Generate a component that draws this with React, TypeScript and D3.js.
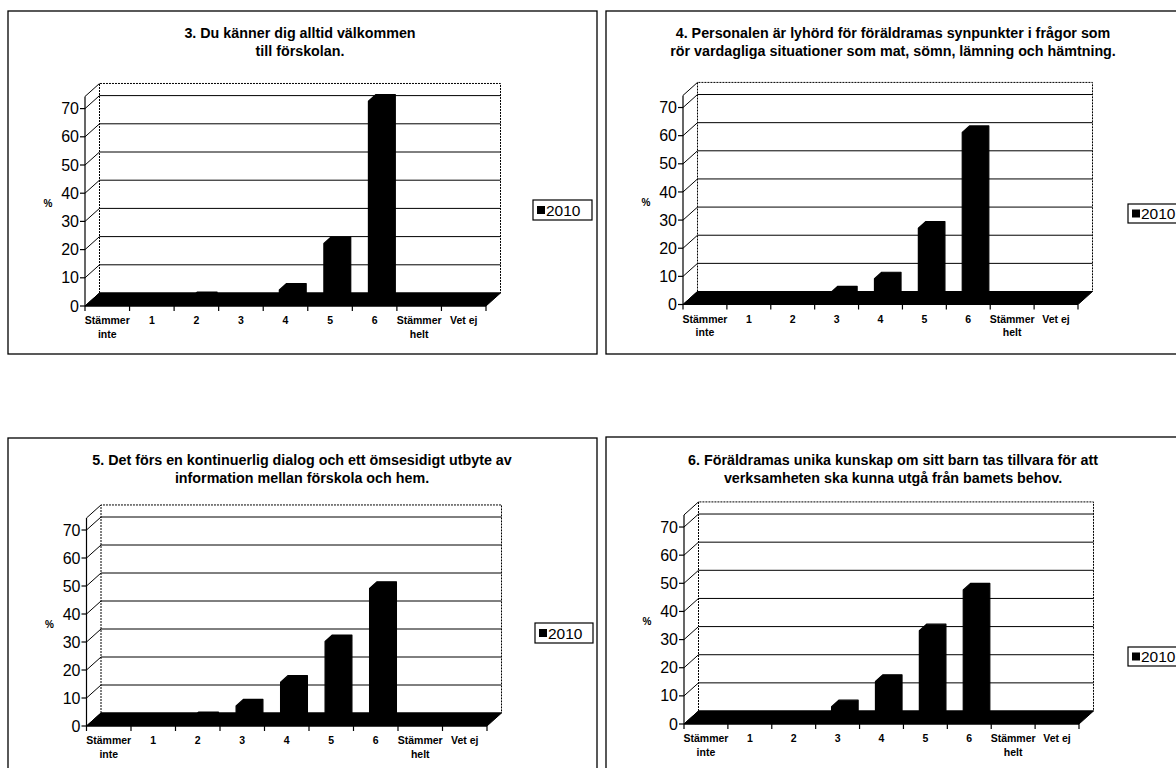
import React from 'react';
import * as d3 from 'd3';

// ---------- data ----------
const categories = ['Stämmer inte', '1', '2', '3', '4', '5', '6', 'Stämmer helt', 'Vet ej'];
const categoryLines: string[][] = [['Stämmer', 'inte'], ['1'], ['2'], ['3'], ['4'], ['5'], ['6'], ['Stämmer', 'helt'], ['Vet ej']];
const yTicks = [0, 10, 20, 30, 40, 50, 60, 70];
const yMax = 74.3;
const seriesName = '2010';
const yAxisTitle = '%';

const q3Values = [0, 0, 1.5, 0, 4.5, 21, 71.5, 0, 0];
const q4Values = [0, 0, 0, 3, 8, 26, 60, 0, 0];
const q5Values = [0, 0, 1.5, 6, 14.5, 29, 48, 0, 0];
const q6Values = [0, 0, 0, 5, 14, 32, 46.5, 0, 0];

const q3Title = ['3. Du känner dig alltid välkommen', 'till förskolan.'];
const q4Title = ['4. Personalen är lyhörd för föräldramas synpunkter i frågor som', 'rör vardagliga situationer som mat, sömn, lämning och hämtning.'];
const q5Title = ['5. Det förs en kontinuerlig dialog och ett ömsesidigt utbyte av', 'information mellan förskola och hem.'];
const q6Title = ['6. Föräldramas unika kunskap om sitt barn tas tillvara för att', 'verksamheten ska kunna utgå från bamets behov.'];

// ---------- layout ----------
type Layout = {
  box: [number, number, number, number];
  fx: number; fy: number; W: number; k: number;
  titleX: number; titleY: [number, number];
  legend: [number, number, number, number];
};

const layouts: Layout[] = [
  { box: [8, 11, 597, 354], fx: 85, fy: 306, W: 401, k: 2.82, titleX: 300, titleY: [37.5, 56], legend: [533, 200, 59, 20] },
  { box: [606, 11, 1190, 354], fx: 683, fy: 304.5, W: 395, k: 2.814, titleX: 893, titleY: [37.5, 56], legend: [1128, 204, 59, 19] },
  { box: [8, 438, 597, 790], fx: 86.5, fy: 726, W: 400.5, k: 2.8, titleX: 302, titleY: [464.5, 483], legend: [535, 623, 58, 20] },
  { box: [606, 437, 1190, 790], fx: 684, fy: 724, W: 395, k: 2.814, titleX: 893, titleY: [464.5, 483], legend: [1128, 647, 59, 19] },
];

const DX = 14.5;
const DY = -13;
const FONT = '"Liberation Sans", Arial, Helvetica, sans-serif';

function Panel({ values, title, L }: { values: number[]; title: string[]; L: Layout }) {
  const { fx, fy, W, k } = L;
  const x = d3.scaleBand<string>().domain(categories).range([fx, fx + W]);
  const y = d3.scaleLinear().domain([0, yMax]).range([fy, fy - yMax * k]);
  const bw = x.bandwidth();
  const p = (px: number, py: number, d: number): [number, number] => [px + d * DX, py + d * DY];
  const pts = (arr: [number, number][]) => arr.map((a) => a.join(',')).join(' ');
  const line = d3.line();

  const top = y(yMax);
  const [bx0, by0, bx1, by1] = L.box;
  const [lx, ly, lw, lh] = L.legend;

  return (
    <g>
      <rect x={bx0} y={by0} width={bx1 - bx0} height={by1 - by0} fill="white" stroke="#000" strokeWidth={1.3} />
      {/* title */}
      {title.map((t, i) => (
        <text key={i} x={L.titleX} y={L.titleY[i]} textAnchor="middle" fontFamily={FONT} fontWeight="bold" fontSize={14.3} fill="#000">
          {t}
        </text>
      ))}
      {/* back wall outline */}
      <path d={line([p(fx, fy, 1), p(fx, top, 1), p(fx + W, top, 1), p(fx + W, fy, 1)]) || ''} fill="none" stroke="#000" strokeWidth={1} strokeDasharray="2,1" />
      {/* side wall top */}
      <path d={line([[fx, top], p(fx, top, 1)]) || ''} fill="none" stroke="#000" strokeWidth={1} />
      {/* gridlines */}
      {yTicks.map((t) => (
        <g key={t}>
          <path d={line([[fx, y(t)], p(fx, y(t), 1)]) || ''} stroke="#000" strokeWidth={1} fill="none" />
          <path d={line([p(fx, y(t), 1), p(fx + W, y(t), 1)]) || ''} stroke="#000" strokeWidth={1} fill="none" />
        </g>
      ))}
      {/* floor */}
      <polygon points={pts([p(fx, fy, 0), p(fx + W, fy, 0), p(fx + W, fy, 1), p(fx, fy, 1)])} fill="#000" stroke="#000" strokeWidth={1} />
      {/* bars */}
      {categories.map((c, i) => {
        const v = values[i];
        if (!v) return null;
        const cx = (x(c) as number) + bw / 2;
        const w = 0.44 * bw;
        const xL = cx - w / 2;
        const xR = cx + w / 2;
        const yB = y(0);
        const yT = y(v);
        const d1 = 0.25;
        const d2 = 0.75;
        return (
          <polygon
            key={c}
            points={pts([p(xL, yB, d1), p(xL, yT, d1), p(xL, yT, d2), p(xR, yT, d2), p(xR, yB, d2), p(xR, yB, d1)])}
            fill="#000"
            stroke="#000"
            strokeWidth={1.2}
            strokeLinejoin="round"
          />
        );
      })}
      {/* y axis */}
      <path d={line([[fx, fy], [fx, top]]) || ''} stroke="#000" strokeWidth={1.2} fill="none" />
      {yTicks.map((t) => (
        <g key={'yt' + t}>
          <path d={line([[fx - 5, y(t)], [fx, y(t)]]) || ''} stroke="#000" strokeWidth={1.2} />
          <text x={fx - 6} y={y(t) + 5.6} textAnchor="end" fontFamily={FONT} fontSize={16} fill="#000">
            {t}
          </text>
        </g>
      ))}
      <text x={fx - 37} y={y(36.5) + 4} textAnchor="middle" fontFamily={FONT} fontWeight="bold" fontSize={10} fill="#000">
        {yAxisTitle}
      </text>
      {/* x axis */}
      <path d={line([[fx, fy], [fx + W, fy]]) || ''} stroke="#000" strokeWidth={1.2} fill="none" />
      {[...categories.map((c) => x(c) as number), fx + W].map((tx, i) => (
        <path key={'xt' + i} d={line([[tx, fy], [tx, fy + 5]]) || ''} stroke="#000" strokeWidth={1.2} />
      ))}
      {categories.map((c, i) => (
        <text key={'xl' + c} textAnchor="middle" fontFamily={FONT} fontWeight="bold" fontSize={10.5} fill="#000">
          {categoryLines[i].map((s, j) => (
            <tspan key={j} x={(x(c) as number) + bw / 2} y={fy + 18 + j * 13.5}>
              {s}
            </tspan>
          ))}
        </text>
      ))}
      {/* legend */}
      <rect x={lx} y={ly} width={lw} height={lh} fill="white" stroke="#000" strokeWidth={1.2} />
      <rect x={lx + 4} y={ly + lh / 2 - 4} width={8} height={8} fill="#000" />
      <text x={lx + 13} y={ly + lh / 2 + 5.5} fontFamily={FONT} fontSize={15.5} fill="#000">
        {seriesName}
      </text>
    </g>
  );
}

export default function App() {
  const data = [q3Values, q4Values, q5Values, q6Values];
  const titles = [q3Title, q4Title, q5Title, q6Title];
  return (
    <svg
      width={1176}
      height={768}
      viewBox="0 0 1176 768"
      style={{ position: 'absolute', left: 0, top: 0, background: '#fff' }}
    >
      <rect x={0} y={0} width={1176} height={768} fill="#fff" />
      {layouts.map((L, i) => (
        <Panel key={i} values={data[i]} title={titles[i]} L={L} />
      ))}
    </svg>
  );
}
